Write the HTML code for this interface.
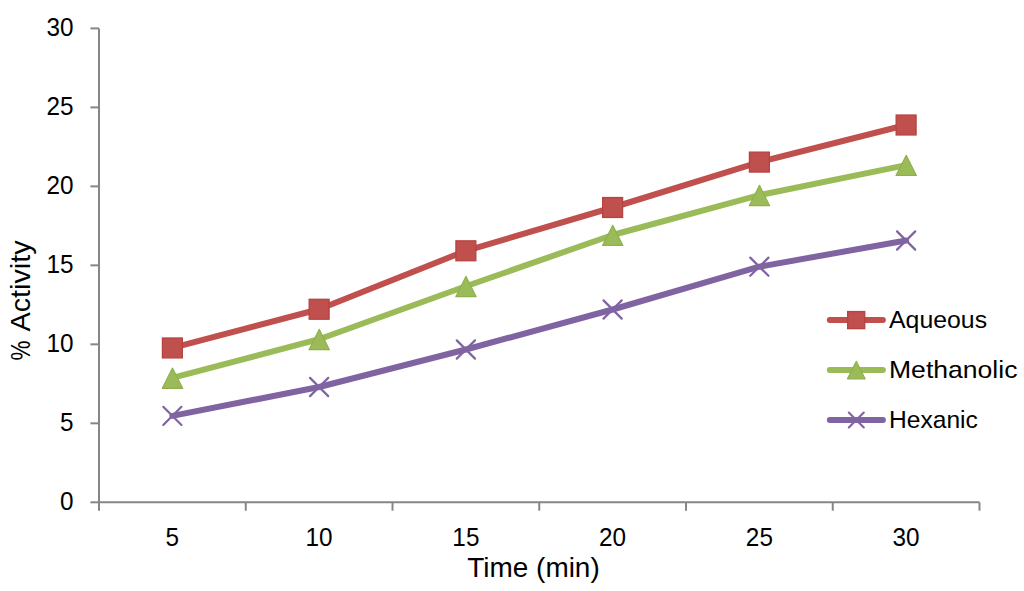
<!DOCTYPE html>
<html><head><meta charset="utf-8"><style>
html,body{margin:0;padding:0;background:#fff;width:1024px;height:591px;overflow:hidden}
svg{display:block;font-family:"Liberation Sans",sans-serif}
</style></head><body>
<svg width="1024" height="591" viewBox="0 0 1024 591">
<g stroke="#868686" stroke-width="2" fill="none">
<path d="M99.0,28.4V502.3H979.5"/>
<path d="M90.4,28.40H99.0"/>
<path d="M90.4,107.38H99.0"/>
<path d="M90.4,186.37H99.0"/>
<path d="M90.4,265.35H99.0"/>
<path d="M90.4,344.33H99.0"/>
<path d="M90.4,423.32H99.0"/>
<path d="M90.4,502.30H99.0"/>
<path d="M99.00,502.3V510.7"/>
<path d="M245.75,502.3V510.7"/>
<path d="M392.50,502.3V510.7"/>
<path d="M539.25,502.3V510.7"/>
<path d="M686.00,502.3V510.7"/>
<path d="M832.75,502.3V510.7"/>
<path d="M979.50,502.3V510.7"/>
</g>
<g fill="#000">
<text transform="translate(73.50,36.40) scale(0.9500,1)" font-size="25.6" text-anchor="end">30</text>
<text transform="translate(73.50,115.38) scale(0.9500,1)" font-size="25.6" text-anchor="end">25</text>
<text transform="translate(73.50,194.37) scale(0.9500,1)" font-size="25.6" text-anchor="end">20</text>
<text transform="translate(73.50,273.35) scale(0.9500,1)" font-size="25.6" text-anchor="end">15</text>
<text transform="translate(73.50,352.33) scale(0.9500,1)" font-size="25.6" text-anchor="end">10</text>
<text transform="translate(73.50,431.32) scale(0.9500,1)" font-size="25.6" text-anchor="end">5</text>
<text transform="translate(73.50,510.30) scale(0.9500,1)" font-size="25.6" text-anchor="end">0</text>
<text transform="translate(172.38,546.00) scale(0.9500,1)" font-size="25.6" text-anchor="middle">5</text>
<text transform="translate(319.12,546.00) scale(0.9500,1)" font-size="25.6" text-anchor="middle">10</text>
<text transform="translate(465.88,546.00) scale(0.9500,1)" font-size="25.6" text-anchor="middle">15</text>
<text transform="translate(612.62,546.00) scale(0.9500,1)" font-size="25.6" text-anchor="middle">20</text>
<text transform="translate(759.38,546.00) scale(0.9500,1)" font-size="25.6" text-anchor="middle">25</text>
<text transform="translate(906.12,546.00) scale(0.9500,1)" font-size="25.6" text-anchor="middle">30</text>
<text transform="translate(533.50,577.40) scale(1.0200,1)" font-size="27.4" text-anchor="middle">Time (min)</text>
<text transform="translate(30.20,360.60) rotate(-90) scale(0.8200,1)" font-size="27.4">%</text>
<text transform="translate(30.20,240.40) rotate(-90) scale(1.0500,1)" font-size="27.4" text-anchor="end">Activity</text>
</g>
<polyline points="172.38,347.95 319.12,309.25 465.88,250.80 612.62,207.50 759.38,162.10 906.12,125.00" fill="none" stroke="#C0504D" stroke-width="6" stroke-linejoin="round" stroke-linecap="round"/>
<polyline points="172.38,377.90 319.12,339.20 465.88,286.20 612.62,235.00 759.38,195.20 906.12,165.10" fill="none" stroke="#9BBB59" stroke-width="6" stroke-linejoin="round" stroke-linecap="round"/>
<polyline points="172.38,415.90 319.12,387.00 465.88,349.50 612.62,309.50 759.38,266.70 906.12,240.50" fill="none" stroke="#8064A2" stroke-width="6" stroke-linejoin="round" stroke-linecap="round"/>
<rect x="162.43" y="338.00" width="19.90" height="19.90" fill="#C0504D" stroke="#B7423F" stroke-width="1.3"/>
<rect x="309.18" y="299.30" width="19.90" height="19.90" fill="#C0504D" stroke="#B7423F" stroke-width="1.3"/>
<rect x="455.93" y="240.85" width="19.90" height="19.90" fill="#C0504D" stroke="#B7423F" stroke-width="1.3"/>
<rect x="602.67" y="197.55" width="19.90" height="19.90" fill="#C0504D" stroke="#B7423F" stroke-width="1.3"/>
<rect x="749.42" y="152.15" width="19.90" height="19.90" fill="#C0504D" stroke="#B7423F" stroke-width="1.3"/>
<rect x="896.17" y="115.05" width="19.90" height="19.90" fill="#C0504D" stroke="#B7423F" stroke-width="1.3"/>
<polygon points="172.47,368.05 182.67,388.35 162.28,388.35" fill="#9BBB59" stroke="#8EAF4A" stroke-width="1.1" stroke-linejoin="round"/>
<polygon points="319.23,329.35 329.43,349.65 309.03,349.65" fill="#9BBB59" stroke="#8EAF4A" stroke-width="1.1" stroke-linejoin="round"/>
<polygon points="465.98,276.35 476.18,296.65 455.78,296.65" fill="#9BBB59" stroke="#8EAF4A" stroke-width="1.1" stroke-linejoin="round"/>
<polygon points="612.73,225.15 622.93,245.45 602.52,245.45" fill="#9BBB59" stroke="#8EAF4A" stroke-width="1.1" stroke-linejoin="round"/>
<polygon points="759.48,185.35 769.68,205.65 749.27,205.65" fill="#9BBB59" stroke="#8EAF4A" stroke-width="1.1" stroke-linejoin="round"/>
<polygon points="906.23,155.25 916.43,175.55 896.02,175.55" fill="#9BBB59" stroke="#8EAF4A" stroke-width="1.1" stroke-linejoin="round"/>
<path d="M163.28,406.80L181.47,425.00M181.47,406.80L163.28,425.00" stroke="#8064A2" stroke-width="2.2" stroke-linecap="round" fill="none"/>
<path d="M310.02,377.90L328.23,396.10M328.23,377.90L310.02,396.10" stroke="#8064A2" stroke-width="2.2" stroke-linecap="round" fill="none"/>
<path d="M456.77,340.40L474.98,358.60M474.98,340.40L456.77,358.60" stroke="#8064A2" stroke-width="2.2" stroke-linecap="round" fill="none"/>
<path d="M603.52,300.40L621.73,318.60M621.73,300.40L603.52,318.60" stroke="#8064A2" stroke-width="2.2" stroke-linecap="round" fill="none"/>
<path d="M750.27,257.60L768.48,275.80M768.48,257.60L750.27,275.80" stroke="#8064A2" stroke-width="2.2" stroke-linecap="round" fill="none"/>
<path d="M897.02,231.40L915.23,249.60M915.23,231.40L897.02,249.60" stroke="#8064A2" stroke-width="2.2" stroke-linecap="round" fill="none"/>
<path d="M829.8,320.1H882.9" stroke="#C0504D" stroke-width="6" stroke-linecap="round"/>
<rect x="847.65" y="311.55" width="17.10" height="17.10" fill="#C0504D" stroke="#B7423F" stroke-width="1.3"/>
<text transform="translate(889.00,328.10) scale(1.0100,1)" font-size="24.6">Aqueous</text>
<path d="M829.8,370.0H882.9" stroke="#9BBB59" stroke-width="6" stroke-linecap="round"/>
<polygon points="856.30,361.35 865.15,378.85 847.45,378.85" fill="#9BBB59" stroke="#8EAF4A" stroke-width="1.1" stroke-linejoin="round"/>
<text transform="translate(889.00,378.00) scale(1.0800,1)" font-size="24.6">Methanolic</text>
<path d="M829.8,420.0H882.9" stroke="#8064A2" stroke-width="6" stroke-linecap="round"/>
<path d="M848.80,412.50L863.80,427.50M863.80,412.50L848.80,427.50" stroke="#8064A2" stroke-width="2.1" stroke-linecap="round" fill="none"/>
<text transform="translate(889.00,428.00)" font-size="24.6">Hexanic</text>
</svg>
</body></html>
